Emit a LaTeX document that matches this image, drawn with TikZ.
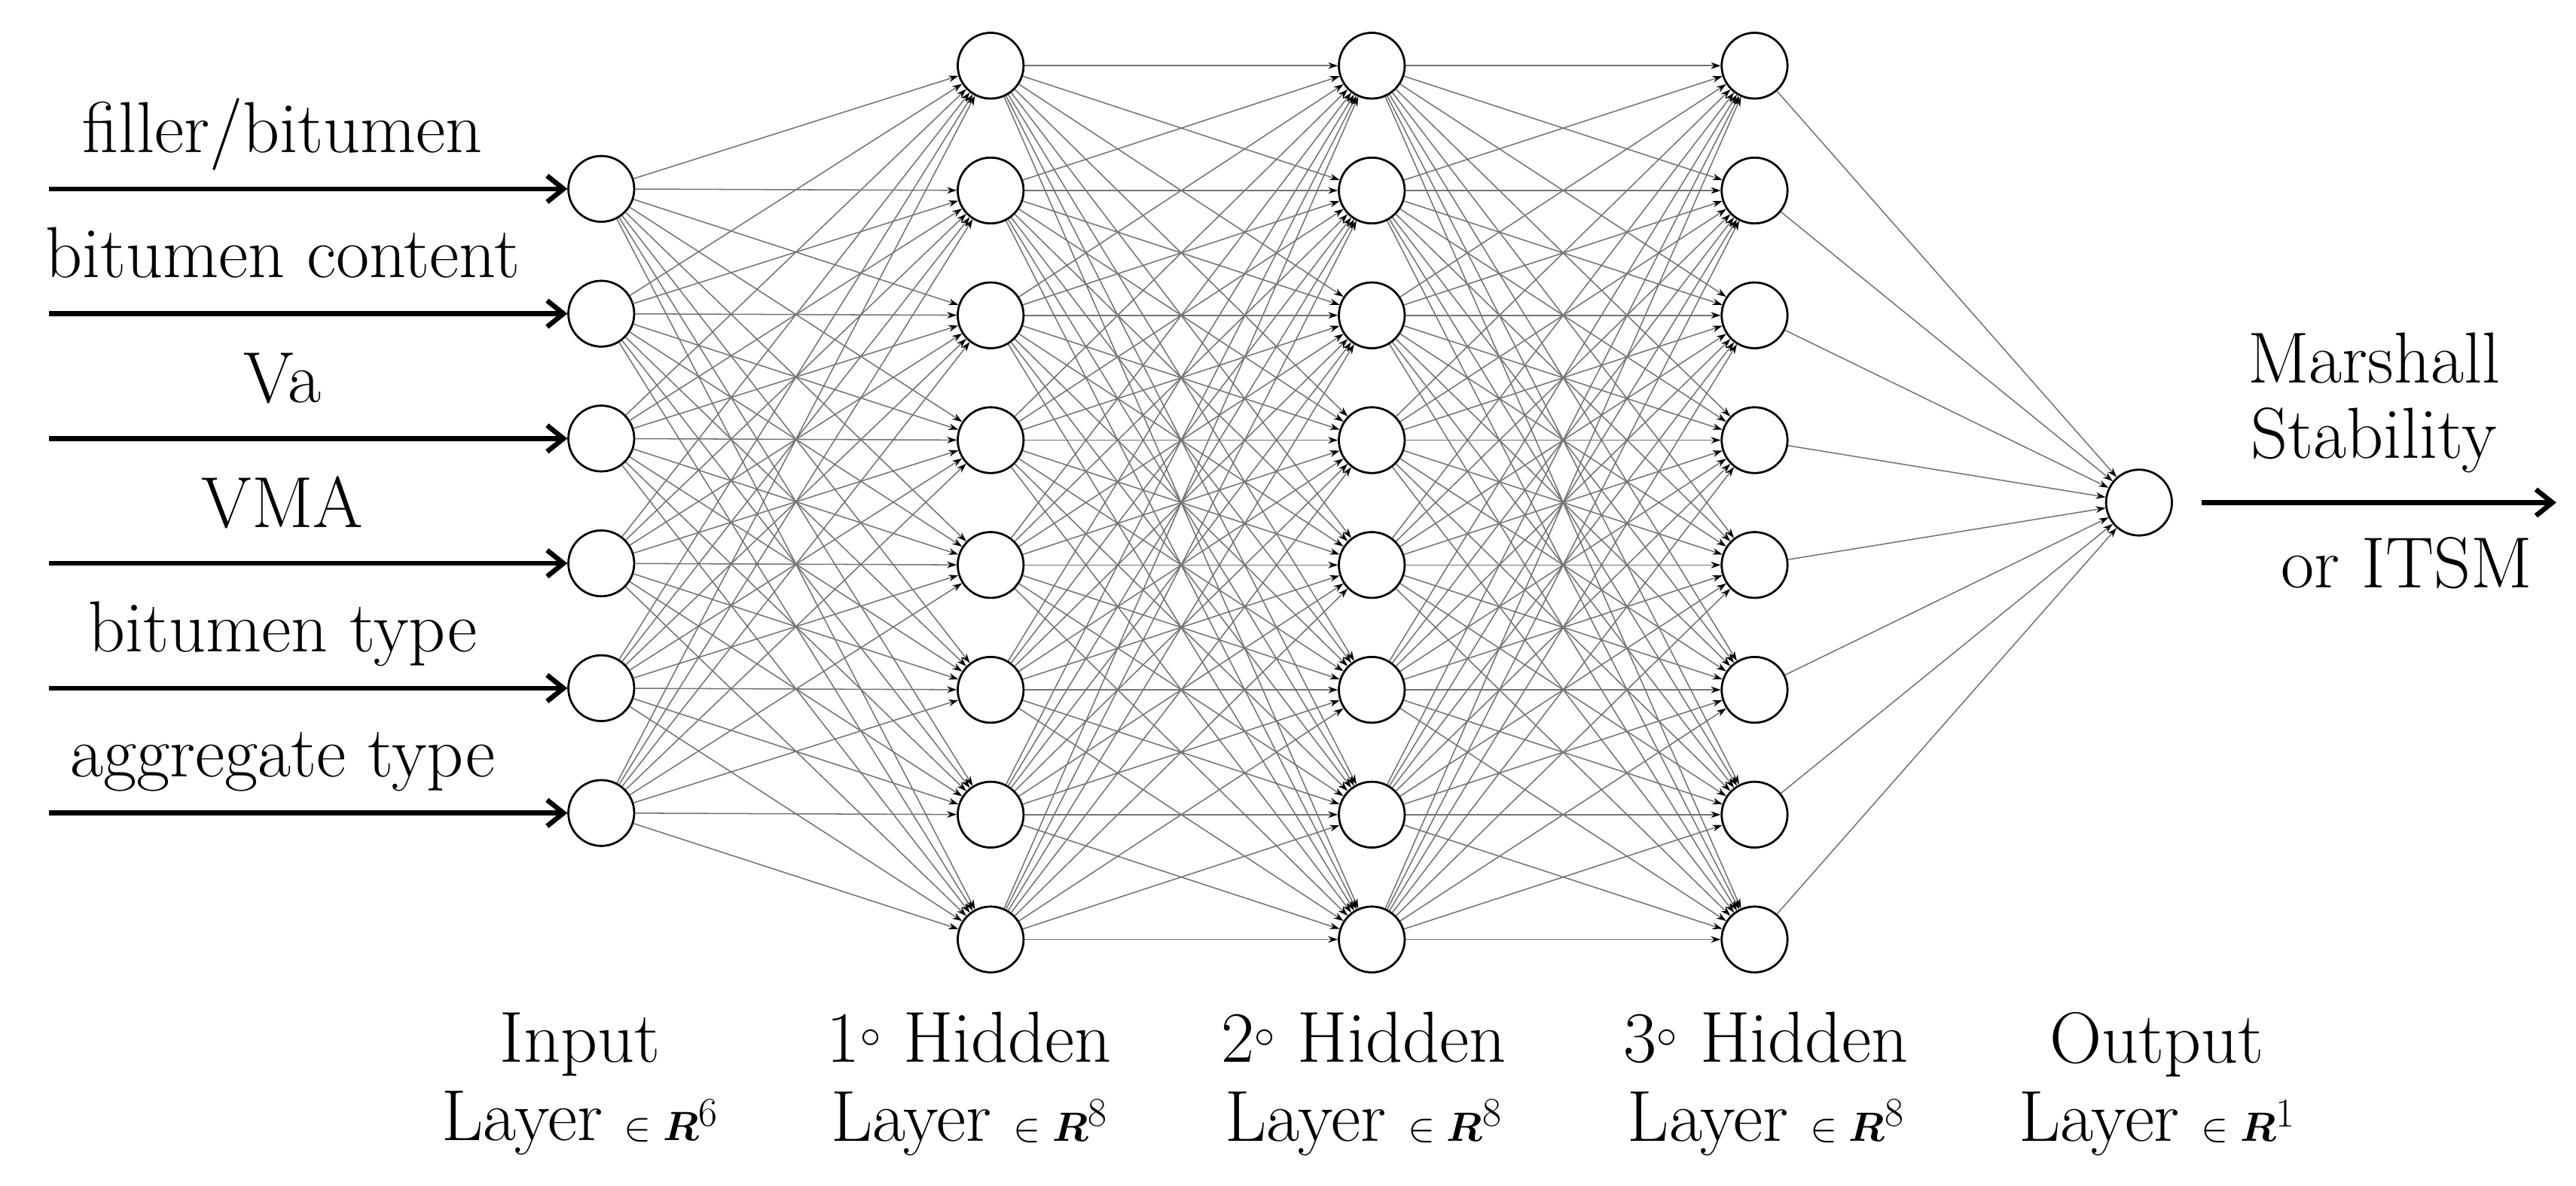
\documentclass[tikz,border=0pt]{standalone}
\usepackage{amsmath,bm}
\usetikzlibrary{arrows.meta}
\begin{document}
\begin{tikzpicture}[x=1pt,y=-1pt,
  neuron/.style={circle,draw=black,line width=1.2pt,fill=white,minimum size=40pt,inner sep=0pt},
  conn/.style={draw=black!55,line width=0.7pt,-{Stealth[length=6pt,width=4pt,black]}},
  inarr/.style={line width=3pt,-{Straight Barb[length=10pt,width=16pt]}},
  lab/.style={font=\fontsize{44}{48}\selectfont,inner sep=0pt},
  blab/.style={font=\fontsize{44}{48}\selectfont,align=center,inner sep=0pt}]
\useasboundingbox (0,0) rectangle (1568,722);
\foreach \i in {1,...,6} \coordinate (pI\i) at (366,{115+76*(\i-1)});
\foreach \l/\x in {A/603,B/835,C/1068}
  \foreach \i in {1,...,8} \coordinate (p\l\i) at (\x,{40+76*(\i-1)});
% neurons (drawn first for anchors)
\foreach \i in {1,...,6} \node[neuron] (I\i) at (pI\i) {};
\foreach \l in {A,B,C} \foreach \i in {1,...,8} \node[neuron] (\l\i) at (p\l\i) {};
\node[neuron] (O) at (1302,306) {};
% connections
\foreach \i in {1,...,6} \foreach \j in {1,...,8} \draw[conn] (I\i) -- (A\j);
\foreach \i in {1,...,8} \foreach \j in {1,...,8} \draw[conn] (A\i) -- (B\j);
\foreach \i in {1,...,8} \foreach \j in {1,...,8} \draw[conn] (B\i) -- (C\j);
\foreach \i in {1,...,8} \draw[conn] (C\i) -- (O);
% redraw neurons on top
\foreach \i in {1,...,6} \node[neuron] at (pI\i) {};
\foreach \l in {A,B,C} \foreach \i in {1,...,8} \node[neuron] at (p\l\i) {};
\node[neuron] at (1302,306) {};
% input arrows
\foreach \i/\t in {1/filler\slash bitumen,2/bitumen content,3/Va,4/VMA,5/bitumen type,6/aggregate type}{
  \coordinate (s\i) at (30,{115+76*(\i-1)});
  \draw[inarr] (s\i) -- (I\i.west);
  \node[lab,anchor=base] at (172,{115+76*(\i-1)-22}) {\t};
}
\coordinate (os) at (1340,306);
\coordinate (oe) at (1556,306);
\draw[inarr] (os) -- (oe);
\node[lab] at (1445,218) {Marshall};
\node[lab] at (1445,268) {Stability};
\node[lab] at (1465,343) {or ITSM};
% bottom labels
\node[blab] at (353,660) {Input\\Layer $\in\bm{R}^{6}$};
\node[blab] at (590,660) {1$^\circ$ Hidden\\Layer $\in\bm{R}^{8}$};
\node[blab] at (830,660) {2$^\circ$ Hidden\\Layer $\in\bm{R}^{8}$};
\node[blab] at (1075,660) {3$^\circ$ Hidden\\Layer $\in\bm{R}^{8}$};
\node[blab] at (1313,660) {Output\\Layer $\in\bm{R}^{1}$};
\end{tikzpicture}
\end{document}
